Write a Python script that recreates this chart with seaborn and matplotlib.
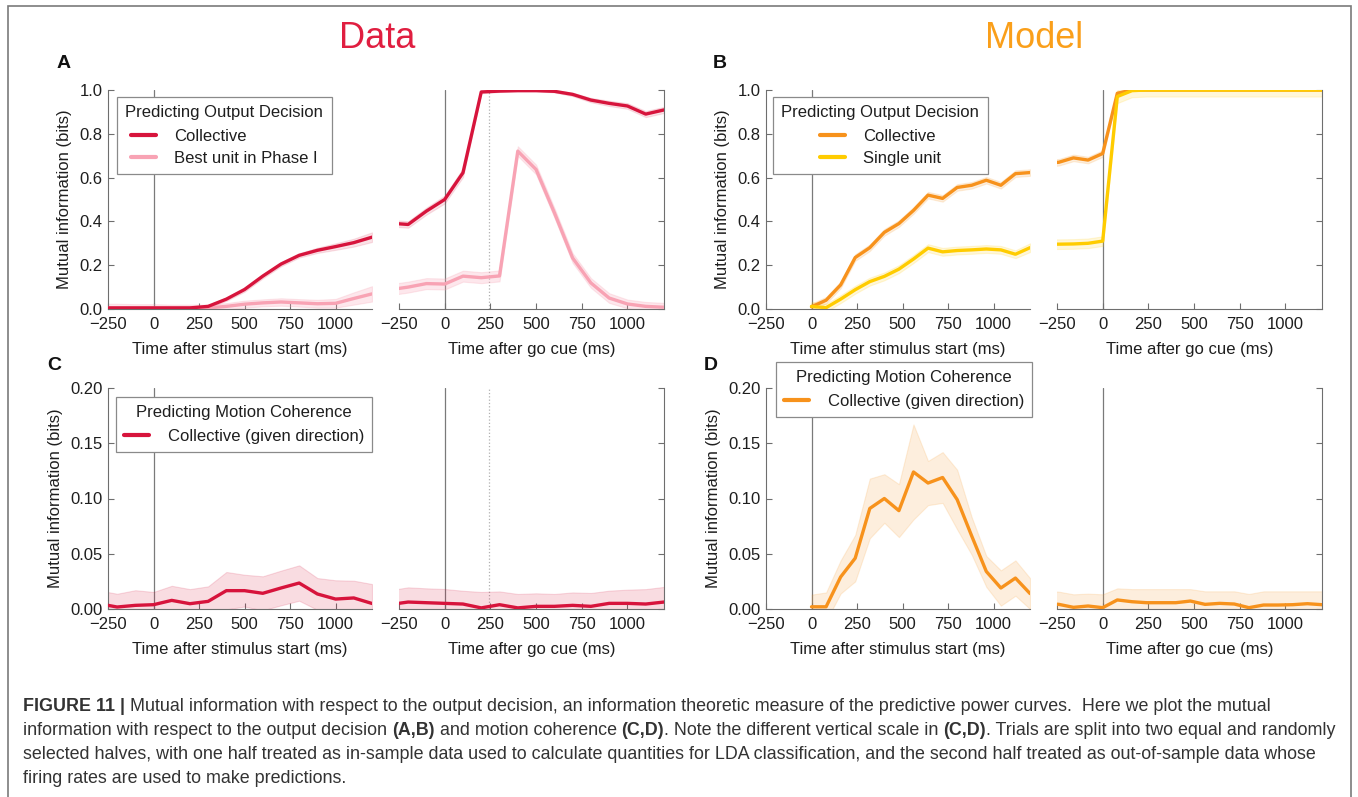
import matplotlib
matplotlib.use('Agg')
import matplotlib.pyplot as plt
from matplotlib.lines import Line2D
from matplotlib.patches import Rectangle
import numpy as np
import pandas as pd
import seaborn as sns

# ---------------- data ----------------
# Data panels: 100 ms bins (first bin lies outside the visible window)
t_data = [-300, -200, -100, 0, 100, 200, 300, 400, 500, 600, 700, 800, 900, 1000, 1100, 1200]
# Model panels: 80 ms bins
t_model_stim = [0, 80, 160, 240, 320, 400, 480, 560, 640, 720, 800, 880, 960, 1040, 1120, 1200]
t_model_go = [-320, -240, -160, -80, 0, 80, 160, 240, 320, 400, 480, 560, 640, 720, 800, 880,
              960, 1040, 1120, 1200]

# (A) Data, output decision
a_stim_coll = [0.005, 0.005, 0.005, 0.005, 0.005, 0.005, 0.012, 0.045, 0.089, 0.150, 0.205, 0.245,
               0.268, 0.285, 0.303, 0.328]
a_stim_coll_err = [0.006, 0.006, 0.006, 0.006, 0.006, 0.006, 0.006, 0.008, 0.010, 0.010, 0.010, 0.010,
                   0.012, 0.015, 0.018, 0.022]
a_stim_best = [0.004, 0.004, 0.004, 0.004, 0.004, 0.004, 0.005, 0.012, 0.022, 0.028, 0.032, 0.028,
               0.024, 0.026, 0.048, 0.069]
a_stim_best_err = [0.020, 0.020, 0.018, 0.018, 0.016, 0.016, 0.015, 0.015, 0.016, 0.016, 0.017, 0.017,
                   0.018, 0.020, 0.028, 0.035]
a_go_coll = [0.392, 0.386, 0.447, 0.500, 0.622, 0.991, 0.995, 0.997, 0.997, 0.994, 0.980, 0.954,
             0.939, 0.927, 0.890, 0.909]
a_go_coll_err = [0.015, 0.015, 0.016, 0.018, 0.020, 0.006, 0.004, 0.003, 0.003, 0.005, 0.008, 0.010,
                 0.012, 0.013, 0.014, 0.014]
a_go_best = [0.088, 0.100, 0.116, 0.114, 0.150, 0.143, 0.151, 0.721, 0.637, 0.440, 0.233, 0.119,
             0.050, 0.023, 0.012, 0.008]
a_go_best_err = [0.025, 0.025, 0.025, 0.025, 0.025, 0.025, 0.025, 0.022, 0.022, 0.022, 0.022, 0.022,
                 0.022, 0.020, 0.020, 0.020]

# (B) Model, output decision
b_stim_coll = [0.010, 0.040, 0.110, 0.235, 0.280, 0.350, 0.390, 0.450, 0.520, 0.505, 0.555, 0.565,
               0.588, 0.565, 0.618, 0.623]
b_stim_coll_err = [0.015, 0.015, 0.015, 0.015, 0.015, 0.015, 0.015, 0.015, 0.015, 0.015, 0.015, 0.015,
                   0.015, 0.015, 0.015, 0.015]
b_stim_single = [0.012, 0.006, 0.045, 0.088, 0.125, 0.149, 0.182, 0.228, 0.278, 0.261, 0.267, 0.270,
                 0.274, 0.270, 0.250, 0.280]
b_stim_single_err = [0.020, 0.018, 0.018, 0.018, 0.018, 0.018, 0.018, 0.018, 0.018, 0.018, 0.018, 0.018,
                     0.018, 0.018, 0.018, 0.020]
b_go_coll = [0.665, 0.670, 0.690, 0.680, 0.710, 0.985, 1.000, 1.000, 1.000, 1.000, 1.000, 1.000,
             1.000, 1.000, 1.000, 1.000, 1.000, 1.000, 1.000, 1.000]
b_go_coll_err = [0.015, 0.015, 0.015, 0.015, 0.015, 0.008, 0.004, 0.004, 0.004, 0.004, 0.004, 0.004,
                 0.004, 0.004, 0.004, 0.004, 0.004, 0.004, 0.004, 0.004]
b_go_single = [0.296, 0.296, 0.297, 0.300, 0.310, 0.970, 0.997, 1.000, 1.000, 1.000, 1.000, 1.000,
               1.000, 1.000, 1.000, 1.000, 1.000, 1.000, 1.000, 1.000]
b_go_single_err = [0.022, 0.022, 0.022, 0.022, 0.022, 0.030, 0.030, 0.030, 0.030, 0.030, 0.030, 0.030,
                   0.030, 0.030, 0.030, 0.030, 0.030, 0.030, 0.030, 0.030]

# (C) Data, motion coherence
c_stim = [0.0048, 0.0018, 0.0033, 0.0039, 0.0078, 0.0048, 0.0069, 0.0166, 0.0166, 0.0142, 0.0190,
          0.0235, 0.0136, 0.0090, 0.0100, 0.0050]
c_stim_err = [0.0120, 0.0120, 0.0137, 0.0115, 0.0132, 0.0132, 0.0136, 0.0169, 0.0144, 0.0154, 0.0157,
              0.0160, 0.0144, 0.0170, 0.0156, 0.0176]
c_go = [0.0040, 0.0063, 0.0057, 0.0051, 0.0045, 0.0010, 0.0039, 0.0010, 0.0024, 0.0024, 0.0033,
        0.0024, 0.0051, 0.0051, 0.0045, 0.0063]
c_go_err = [0.0130, 0.0133, 0.0130, 0.0130, 0.0120, 0.0144, 0.0120, 0.0126, 0.0118, 0.0112, 0.0117,
            0.0121, 0.0115, 0.0124, 0.0135, 0.0137]

# (D) Model, motion coherence
d_stim = [0.002, 0.002, 0.029, 0.046, 0.091, 0.100, 0.089, 0.124, 0.114, 0.119, 0.099, 0.066,
          0.034, 0.019, 0.028, 0.014]
d_stim_err = [0.011, 0.013, 0.015, 0.021, 0.027, 0.022, 0.024, 0.043, 0.020, 0.023, 0.027, 0.017,
              0.014, 0.016, 0.016, 0.014]
d_go = [0.0050, 0.0042, 0.0015, 0.0027, 0.0012, 0.0082, 0.0066, 0.0057, 0.0057, 0.0057, 0.0072,
        0.0042, 0.0051, 0.0045, 0.0012, 0.0036, 0.0036, 0.0039, 0.0048, 0.0039]
d_go_err = [0.0115, 0.0115, 0.0118, 0.0112, 0.0121, 0.0105, 0.0114, 0.0123, 0.0123, 0.0123, 0.0108,
            0.0118, 0.0109, 0.0115, 0.0124, 0.0124, 0.0124, 0.0121, 0.0112, 0.0121]

x_ticks = [-250, 0, 250, 500, 750, 1000]
dec_ticks = [0.0, 0.2, 0.4, 0.6, 0.8, 1.0]
coh_ticks = [0.00, 0.05, 0.10, 0.15, 0.20]

# ---------------- style ----------------
RED = '#d7143c'
PINK = '#f8a3b4'
ORANGE = '#f7921c'
YELLOW = '#ffcc00'
SPINE = '#6e6e6e'
TXT = '#1e1e1e'

sns.set_theme(style='ticks')
plt.rcParams['font.family'] = ['Liberation Sans', 'DejaVu Sans']
plt.rcParams['axes.unicode_minus'] = True

W, H = 1358, 797
fig = plt.figure(figsize=(W / 100, H / 100), dpi=100)
fig.patch.set_facecolor('white')


def px_axes(x0, x1, ytop, ybot):
    return fig.add_axes([x0 / W, 1 - ybot / H, (x1 - x0) / W, (ybot - ytop) / H])


def style_axes(ax, ticks, fmt, right_side, xlabel):
    ax.set_xlim(-250, 1200)
    ax.set_ylim(ticks[0], ticks[-1])
    ax.set_xticks(x_ticks)
    ax.set_yticks(ticks)
    ax.set_yticklabels([fmt.format(v) for v in ticks])
    ax.set_facecolor('white')
    for s in ax.spines.values():
        s.set_color(SPINE)
        s.set_linewidth(0.8)
    ax.spines['top'].set_visible(False)
    if right_side:
        ax.spines['left'].set_visible(False)
        ax.yaxis.tick_right()
        ax.tick_params(axis='y', labelright=False)
    else:
        ax.spines['right'].set_visible(False)
    ax.tick_params(direction='in', length=4, width=0.8, color=SPINE, labelsize=12,
                   labelcolor=TXT)
    ax.tick_params(axis='y', pad=4)
    ax.tick_params(axis='x', pad=6)
    ax.set_xlabel(xlabel, fontsize=12, color=TXT, labelpad=7)
    ax.axvline(0, color='#7a7a7a', lw=0.9, zorder=0)


def band_line(ax, t, m, e, color, alpha=0.18):
    m = np.array(m)
    e = np.array(e)
    ax.fill_between(t, m - e, m + e, color=color, alpha=alpha, lw=0.8, zorder=1)
    sns.lineplot(x=t, y=m, ax=ax, color=color, lw=2.4, legend=False, zorder=3)
    ax.set_ylabel('')


def add_legend(ax, title, labels, colors, corner):
    handles = [Line2D([0], [0], color=c, lw=3) for c in colors]
    leg = ax.legend(handles, labels, title=title, loc='upper left',
                    bbox_to_anchor=(corner[0] / W, 1 - corner[1] / H),
                    bbox_transform=fig.transFigure, fontsize=12, title_fontsize=12,
                    frameon=True, fancybox=False, framealpha=1, edgecolor='#8a8a8a',
                    handlelength=1.5, handletextpad=1.1, labelspacing=0.42,
                    borderpad=0.5, borderaxespad=0)
    leg.get_frame().set_linewidth(0.9)
    leg._legend_box.sep = 6
    leg.set_zorder(10)
    for t in leg.get_texts():
        t.set_color(TXT)
    leg.get_title().set_color(TXT)


stim_label = 'Time after stimulus start (ms)'
go_label = 'Time after go cue (ms)'

top = (90, 309)
bot = (388, 609)
col_l = [(108, 372), (766, 1030)]
col_r = [(399, 664), (1057, 1322)]
YLAB = 'Mutual information (bits)'

# ---- A ----
ax = px_axes(col_l[0][0], col_l[0][1], *top)
band_line(ax, t_data, a_stim_best, a_stim_best_err, PINK, 0.25)
band_line(ax, t_data, a_stim_coll, a_stim_coll_err, RED, 0.12)
style_axes(ax, dec_ticks, '{:.1f}', False, stim_label)
ax.set_ylabel(YLAB, fontsize=12, color=TXT, labelpad=5)
add_legend(ax, 'Predicting Output Decision', ['Collective', 'Best unit in Phase I'],
           [RED, PINK], (117, 97))

ax = px_axes(col_r[0][0], col_r[0][1], *top)
band_line(ax, t_data, a_go_best, a_go_best_err, PINK, 0.25)
band_line(ax, t_data, a_go_coll, a_go_coll_err, RED, 0.12)
style_axes(ax, dec_ticks, '{:.1f}', True, go_label)
ax.axvline(245, color='#b0b0b0', lw=0.9, ls=':', zorder=0)

# ---- B ----
ax = px_axes(col_l[1][0], col_l[1][1], *top)
band_line(ax, t_model_stim, b_stim_coll, b_stim_coll_err, ORANGE, 0.15)
band_line(ax, t_model_stim, b_stim_single, b_stim_single_err, YELLOW, 0.15)
style_axes(ax, dec_ticks, '{:.1f}', False, stim_label)
ax.set_ylabel(YLAB, fontsize=12, color=TXT, labelpad=5)
add_legend(ax, 'Predicting Output Decision', ['Collective', 'Single unit'],
           [ORANGE, YELLOW], (773, 97))

ax = px_axes(col_r[1][0], col_r[1][1], *top)
band_line(ax, t_model_go, b_go_coll, b_go_coll_err, ORANGE, 0.15)
band_line(ax, t_model_go, b_go_single, b_go_single_err, YELLOW, 0.15)
style_axes(ax, dec_ticks, '{:.1f}', True, go_label)

# ---- C ----
ax = px_axes(col_l[0][0], col_l[0][1], *bot)
band_line(ax, t_data, c_stim, c_stim_err, RED, 0.15)
style_axes(ax, coh_ticks, '{:.2f}', False, stim_label)
ax.set_ylabel(YLAB, fontsize=12, color=TXT, labelpad=5)
add_legend(ax, 'Predicting Motion Coherence', ['Collective (given direction)'], [RED], (116, 397))

ax = px_axes(col_r[0][0], col_r[0][1], *bot)
band_line(ax, t_data, c_go, c_go_err, RED, 0.15)
style_axes(ax, coh_ticks, '{:.2f}', True, go_label)
ax.axvline(245, color='#b0b0b0', lw=0.9, ls=':', zorder=0)

# ---- D ----
ax = px_axes(col_l[1][0], col_l[1][1], *bot)
band_line(ax, t_model_stim, d_stim, d_stim_err, ORANGE, 0.15)
style_axes(ax, coh_ticks, '{:.2f}', False, stim_label)
ax.set_ylabel(YLAB, fontsize=12, color=TXT, labelpad=5)
add_legend(ax, 'Predicting Motion Coherence', ['Collective (given direction)'], [ORANGE], (776, 362))

ax = px_axes(col_r[1][0], col_r[1][1], *bot)
band_line(ax, t_model_go, d_go, d_go_err, ORANGE, 0.15)
style_axes(ax, coh_ticks, '{:.2f}', True, go_label)

# ---- titles and panel letters ----
fig.text(377 / W, 1 - 38 / H, 'Data', color='#e01e40', fontsize=26, ha='center', va='center')
fig.text(1034 / W, 1 - 38 / H, 'Model', color='#fa9f1a', fontsize=26, ha='center', va='center')
for letter, (lx, ly) in {'A': (64, 64), 'B': (720, 64), 'C': (54, 365), 'D': (711, 365)}.items():
    fig.text(lx / W, 1 - ly / H, letter, fontsize=14, fontweight='bold', color='#111',
             ha='center', va='center')

# ---- frame around the whole figure ----
fig.add_artist(Rectangle((8 / W, -0.02), (1351 - 8) / W, 1.02 - 6 / H, transform=fig.transFigure,
                         fill=False, edgecolor='#7a7a7a', lw=1.2, clip_on=False))

# ---- caption with bold runs ----
caption = [
    [('FIGURE 11 |', True),
     (' Mutual information with respect to the output decision, an information theoretic measure '
      'of the predictive power curves.  Here we plot the mutual', False)],
    [('information with respect to the output decision ', False), ('(A,B)', True),
     (' and motion coherence ', False), ('(C,D)', True),
     ('. Note the different vertical scale in ', False), ('(C,D)', True),
     ('. Trials are split into two equal and randomly', False)],
    [('selected halves, with one half treated as in-sample data used to calculate quantities for LDA '
      'classification, and the second half treated as out-of-sample data whose', False)],
    [('firing rates are used to make predictions.', False)],
]
CAP_FS = 12.9
renderer = fig.canvas.get_renderer()


def text_w(s, bold):
    t = fig.text(0, 0, s, fontsize=CAP_FS, fontweight='bold' if bold else 'normal')
    w = t.get_window_extent(renderer).width
    t.remove()
    return w


space_w = text_w('a a', False) - text_w('aa', False)
baselines = [711, 735, 759, 783]
for runs, yb in zip(caption, baselines):
    x = 23.0
    for s, bold in runs:
        lead = len(s) - len(s.lstrip(' '))
        trail = len(s) - len(s.rstrip(' '))
        core = s.strip(' ')
        x += lead * space_w
        t = fig.text(x / W, 1 - yb / H, core, fontsize=CAP_FS, color='#333333',
                     fontweight='bold' if bold else 'normal', ha='left', va='baseline')
        x += t.get_window_extent(renderer).width + trail * space_w

fig.savefig('out.png', dpi=100, facecolor='white')
